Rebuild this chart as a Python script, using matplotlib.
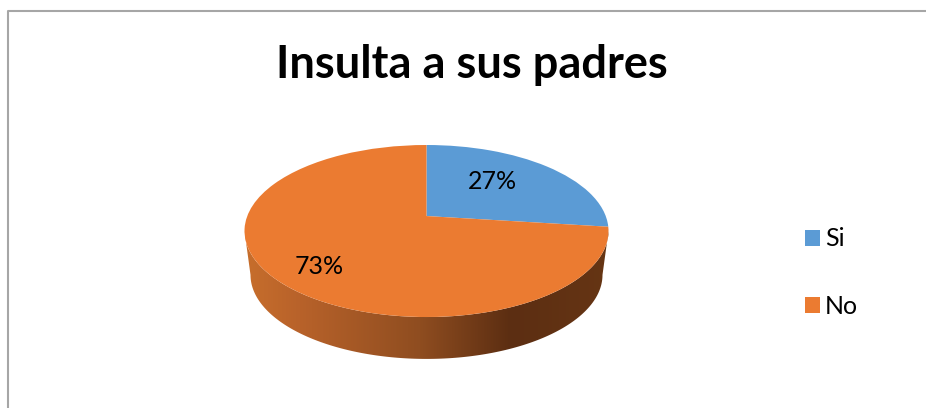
import numpy as np
import matplotlib
matplotlib.use('Agg')
import matplotlib.pyplot as plt
from matplotlib.colors import LinearSegmentedColormap
from matplotlib.lines import Line2D
from matplotlib.patches import Polygon
from matplotlib.transforms import Transform

labels = ['Si', 'No']
values = [27, 73]
colors = ['#5B9BD5', '#EB7B31']
W, H = 926, 408

plt.rcParams['font.family'] = ['Lato', 'DejaVu Sans']


class Tilt(Transform):
    # moves the pie centre back, the way a perspective view does
    input_dims = 2
    output_dims = 2
    k = 0.174

    def transform_non_affine(self, values):
        x, y = values[:, 0], values[:, 1]
        d = 1 + self.k * y
        return np.column_stack([x * np.sqrt(1 - self.k ** 2) / d, (y + self.k) / d])


fig = plt.figure(figsize=(W / 100, H / 100), dpi=100)

# chart frame, only top and left show in the picture
fig.add_artist(Line2D([7.5 / W, 7.5 / W, 1], [0, 1 - 10.5 / H, 1 - 10.5 / H], color='#A6A6A6', lw=1.5))

left, right, top, bottom = 244.5, 608.5, 145, 359
ax = fig.add_axes([left / W, 1 - bottom / H, (right - left) / W, (bottom - top) / H])
ax.axis('off')

wedges, _, autotexts = ax.pie(values, colors=colors, startangle=90, counterclock=False,
                              autopct='%d%%', textprops={'fontsize': 18, 'color': 'black'})
ax.set_aspect('auto')
tilt = Tilt()
for w in wedges:
    w.set_transform(tilt + ax.transData)
    w.set_zorder(3)
autotexts[0].set_position((0.363, 0.57))
autotexts[1].set_position((-0.588, -0.407))
for t in autotexts:
    t.set_zorder(4)

# side of the pie, dark gradient clipped to the band under the rim
t = np.linspace(np.pi, 2 * np.pi, 200)
rim = np.column_stack([np.cos(t), np.sin(t)])
low = np.column_stack([0.967 * np.cos(t[::-1]), -0.51 + 0.977 * np.sin(t[::-1])])
side = Polygon(np.vstack([rim, low]), transform=ax.transData, facecolor='none', edgecolor='none')
ax.add_patch(side)
cmap = LinearSegmentedColormap.from_list('side', [(0, '#C76E2C'), (0.15, '#B8622A'), (0.48, '#8F4D20'),
                                                  (0.73, '#5C2E12'), (1, '#663514')])
img = ax.imshow(np.linspace(0, 1, 256).reshape(1, -1), cmap=cmap, extent=(-1, 1, -1.49, 1),
                aspect='auto', zorder=2)
img.set_clip_path(side)
ax.set_xlim(-1, 1)
ax.set_ylim(-1.488, 1)

fig.text(471.5 / W, 1 - 64.5 / H, 'Insulta a sus padres', ha='center', va='center',
         fontsize=32.5, fontweight='bold', color='black')

fig.legend(wedges, labels, loc='upper left', bbox_to_anchor=(782 / W, 1 - 205 / H), frameon=False,
           fontsize=18, handlelength=0.62, handleheight=0.62, handletextpad=0.2, labelspacing=1.77)

fig.savefig('out.png', dpi=100)
